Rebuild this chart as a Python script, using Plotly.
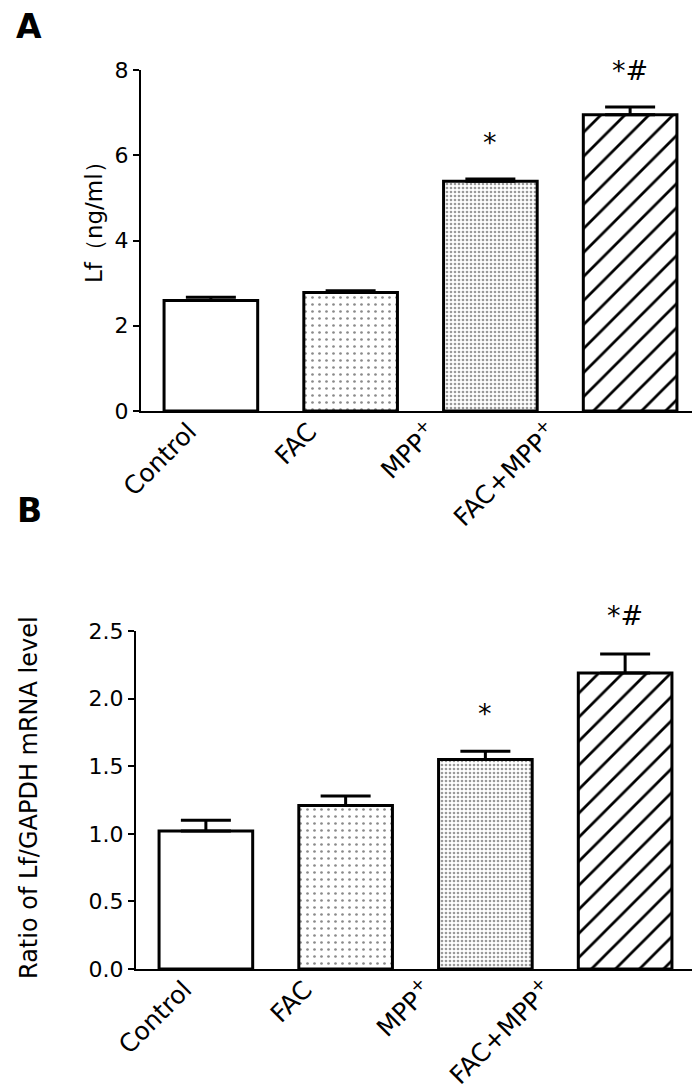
import plotly.graph_objects as go

categories = ["Control", "FAC", "MPP<sup>+</sup>", "FAC+MPP<sup>+</sup>"]

# Panel A: Lf (ng/ml)
lf_values = [2.59, 2.78, 5.39, 6.95]
lf_errors = [0.08, 0.04, 0.05, 0.18]
lf_marks = ["", "", "*", "*#"]

# Panel B: Ratio of Lf/GAPDH mRNA level
ratio_values = [1.02, 1.21, 1.55, 2.19]
ratio_errors = [0.08, 0.07, 0.06, 0.14]
ratio_marks = ["", "", "*", "*#"]

W, H = 700, 1089
FONT = "DejaVu Sans"

patterns = [
    dict(shape="", bgcolor="white"),
    dict(shape=".", fgcolor="#8a8a8a", bgcolor="white", size=7, solidity=0.12, fillmode="replace"),
    dict(shape=".", fgcolor="#9a9a9a", bgcolor="white", size=4, solidity=0.35, fillmode="replace"),
    dict(shape="/", fgcolor="black", bgcolor="white", size=17, solidity=0.16, fillmode="replace"),
]

fig = go.Figure()
idx = list(range(len(categories)))

def add_panel(values, errors, xa, ya, xlab):
    for i, (v, e) in enumerate(zip(values, errors)):
        fig.add_trace(go.Bar(
            x=[i], y=[v], xaxis=xa, yaxis=ya, width=0.67,
            marker=dict(color="white", line=dict(color="black", width=3), pattern=patterns[i]),
            error_y=dict(type="data", array=[e], arrayminus=[0], symmetric=False,
                         color="black", thickness=3, width=25),
            showlegend=False, hoverinfo="skip",
        ))
    # invisible carrier trace for the category-label axis
    fig.add_trace(go.Scatter(x=idx, y=values, xaxis=xlab, yaxis=ya, mode="markers",
                             marker=dict(opacity=0), showlegend=False, hoverinfo="skip"))

add_panel(lf_values, lf_errors, "x", "y", "x3")
add_panel(ratio_values, ratio_errors, "x2", "y2", "x4")

ann = []
for i, (v, e, m) in enumerate(zip(lf_values, lf_errors, lf_marks)):
    if m:
        ann.append(dict(x=i, y=v + e, xref="x", yref="y", text=m, showarrow=False,
                        yanchor="middle", yshift=37, font=dict(size=27, family=FONT, color="black")))
for i, (v, e, m) in enumerate(zip(ratio_values, ratio_errors, ratio_marks)):
    if m:
        ann.append(dict(x=i, y=v + e, xref="x2", yref="y2", text=m, showarrow=False,
                        yanchor="middle", yshift=38, font=dict(size=27, family=FONT, color="black")))

ann += [
    dict(x=21/W, y=1 - 19/H, xref="paper", yref="paper", text="<b>A</b>", showarrow=False,
         xanchor="center", yanchor="middle", borderpad=0, font=dict(size=33, family=FONT, color="black")),
    dict(x=21/W, y=1 - 503/H, xref="paper", yref="paper", text="<b>B</b>", showarrow=False,
         xanchor="center", yanchor="middle", borderpad=0, font=dict(size=33, family=FONT, color="black")),
    dict(x=86/W, y=1 - 209/H, xref="paper", yref="paper", text="Lf（ng/ml）", showarrow=False,
         textangle=-90, xanchor="center", yanchor="middle", font=dict(size=23, family=FONT, color="black")),
    dict(x=21/W, y=1 - 790/H, xref="paper", yref="paper", text="Ratio of Lf/GAPDH mRNA level", showarrow=False,
         textangle=-90, xanchor="center", yanchor="middle", font=dict(size=24, family=FONT, color="black")),
]

xcommon = dict(range=[-0.5, 3.5], showline=True, linecolor="black", linewidth=2,
               ticks="", showticklabels=False,
               showgrid=False, zeroline=False, automargin=False, fixedrange=True)
xlabels = dict(range=[-0.5, 3.5], showline=False, ticks="", tickmode="array", tickvals=idx,
               ticktext=categories, tickangle=-45, tickfont=dict(size=25, family=FONT, color="black"),
               showgrid=False, zeroline=False, automargin=False, fixedrange=True)
ycommon = dict(showline=True, linecolor="black", linewidth=2, ticks="outside", ticklen=6, tickwidth=2,
               tickcolor="black", tickfont=dict(size=22, family=FONT, color="black"),
               showgrid=False, zeroline=False, automargin=False)

fig.update_layout(
    width=W, height=H, margin=dict(l=0, r=0, t=0, b=0),
    paper_bgcolor="white", plot_bgcolor="rgba(0,0,0,0)",
    xaxis=dict(xcommon, domain=[133/W, 692/W], anchor="y"),
    yaxis=dict(ycommon, domain=[1 - 403/H, 1 - 62/H], range=[0, 8], tickvals=[0, 2, 4, 6, 8], anchor="x"),
    xaxis2=dict(xcommon, domain=[128/W, 687/W], anchor="y2"),
    yaxis2=dict(ycommon, domain=[1 - 961/H, 1 - 623/H], range=[0, 2.5],
                tickvals=[0, 0.5, 1.0, 1.5, 2.0, 2.5], tickformat=".1f", anchor="x2"),
    xaxis3=dict(xlabels, domain=[121/W, 602/W], anchor="y"),
    xaxis4=dict(xlabels, domain=[116/W, 598/W], anchor="y2"),
    annotations=ann,
)

fig.write_html("out.html")
